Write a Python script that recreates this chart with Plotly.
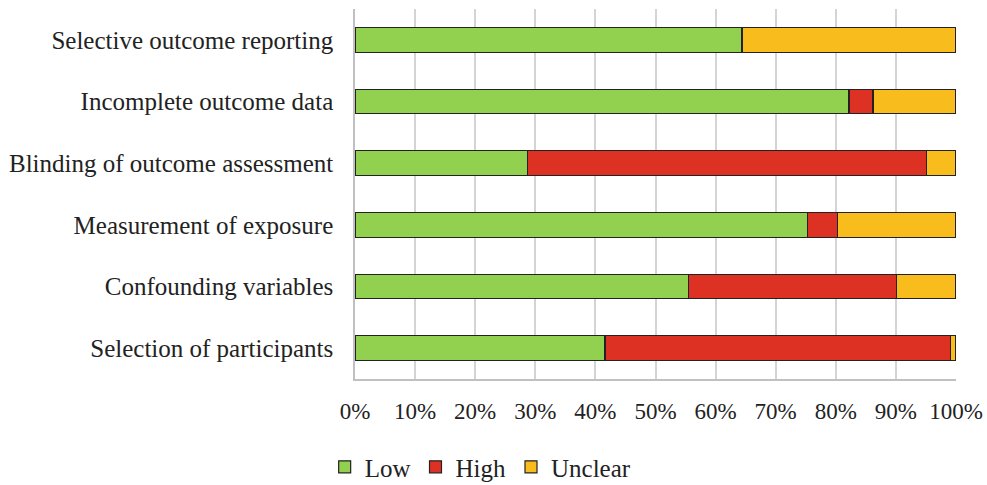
import plotly.graph_objects as go

# Risk-of-bias domains, listed from bottom to top of the chart
domains = [
    "Selection of participants",
    "Confounding variables",
    "Measurement of exposure",
    "Blinding of outcome assessment",
    "Incomplete outcome data",
    "Selective outcome reporting",
]

# Share of studies (%) per judgement
low = [41.6, 55.5, 75.3, 28.7, 82.2, 64.4]
high = [57.5, 34.6, 5.0, 66.4, 4.0, 0.0]
unclear = [0.9, 9.9, 19.7, 4.9, 13.8, 35.6]

tick_vals = [0, 10, 20, 30, 40, 50, 60, 70, 80, 90, 100]
tick_text = [f"{v}%" for v in tick_vals]

series = [
    ("Low", low, "#92d050"),
    ("High", high, "#dd3124"),
    ("Unclear", unclear, "#f8bd1d"),
]

fig = go.Figure()
for name, vals, color in series:
    fig.add_trace(go.Bar(
        y=domains, x=vals, name=name, orientation="h",
        marker=dict(color=color, line=dict(color="#222222", width=1.2)),
        width=0.4,
    ))

serif = "Liberation Serif, Times New Roman, serif"
fig.update_layout(
    barmode="stack",
    width=987, height=485,
    margin=dict(l=355, r=31, t=9, b=106, autoexpand=False),
    paper_bgcolor="white", plot_bgcolor="white",
    font=dict(family=serif, size=25, color="#222222"),
    showlegend=True,
    legend=dict(
        orientation="h", x=0.487, xref="container", xanchor="center",
        y=-0.238, yref="paper", yanchor="middle",
        font=dict(family=serif, size=25, color="#222222"),
        itemwidth=30, tracegroupgap=0, traceorder="normal",
    ),
    xaxis=dict(
        range=[0, 100], tickvals=tick_vals, ticktext=tick_text,
        showgrid=True, gridcolor="#d4d4d4", gridwidth=1.5,
        zeroline=False, showline=True, linecolor="#c0c0c0", linewidth=1.5,
        ticks="", ticklabelstandoff=11, automargin=False, tickangle=0,
        tickfont=dict(family=serif, size=23, color="#222222"),
        fixedrange=True,
    ),
    yaxis=dict(
        showgrid=False, zeroline=False,
        showline=True, linecolor="#c0c0c0", linewidth=1.5,
        ticks="", ticklabelstandoff=15, automargin=False,
        tickfont=dict(family=serif, size=25, color="#222222"),
        range=[-0.5, 5.5], fixedrange=True,
    ),
)

fig.write_html("out.html")
